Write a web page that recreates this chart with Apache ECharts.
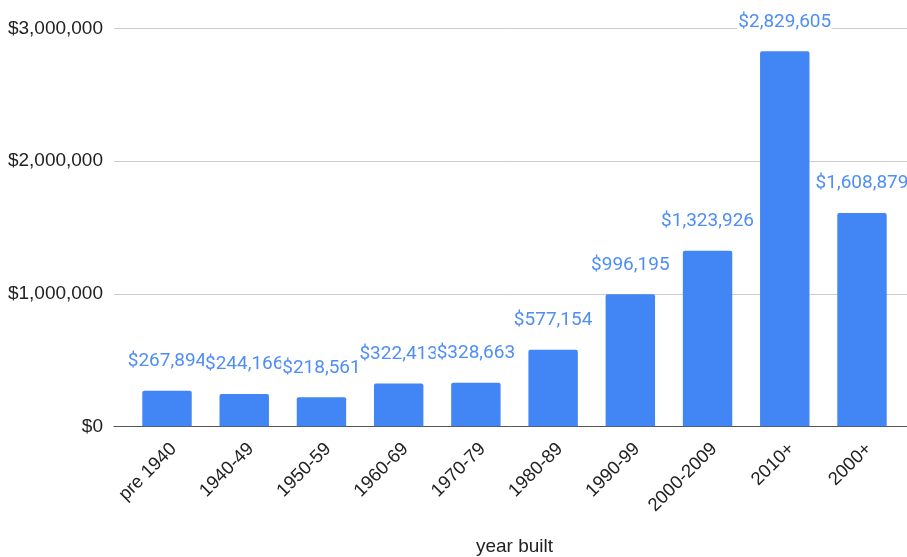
<!DOCTYPE html>
<html>
<head>
<meta charset="utf-8">
<script src="https://cdn.jsdelivr.net/npm/echarts@6/dist/echarts.min.js"></script>
<style>
  html, body { margin: 0; padding: 0; background: #fff; }
  #chart { width: 907px; height: 557px; }
</style>
</head>
<body>
<div id="chart"></div>
<script>
// Median value by year built
const categories = ['pre 1940', '1940-49', '1950-59', '1960-69', '1970-79', '1980-89', '1990-99', '2000-2009', '2010+', '2000+'];
const values = [267894, 244166, 218561, 322413, 328663, 577154, 996195, 1323926, 2829605, 1608879];
const yTicks = [0, 1000000, 2000000, 3000000];

const yMax = yTicks[yTicks.length - 1];
const yStep = yTicks[1] - yTicks[0];
const money = v => '$' + Math.round(v).toLocaleString('en-US');

const plotTop = 28.7;
const plotHeight = 397.6;
const axisFont = '"Liberation Sans", Arial, sans-serif';

const chart = echarts.init(document.getElementById('chart'), null, { renderer: 'canvas' });
chart.setOption({
  backgroundColor: '#ffffff',
  animation: false,
  grid: [
    // wide grid: gridlines, baseline and value-axis labels
    { left: 114, right: 0, top: plotTop, height: plotHeight, outerBoundsMode: 'none', containLabel: false },
    // inner grid: the bars and category labels
    { left: 128.4, right: 6.4, top: plotTop, height: plotHeight, outerBoundsMode: 'none', containLabel: false }
  ],
  xAxis: [
    {
      gridIndex: 0, type: 'value', min: 0, max: 1,
      axisLine: { show: true, onZero: false, lineStyle: { color: '#555555', width: 1 } },
      axisTick: { show: false }, axisLabel: { show: false }, splitLine: { show: false }
    },
    {
      gridIndex: 1, type: 'category', data: categories,
      axisLine: { show: false }, axisTick: { show: false },
      axisLabel: {
        rotate: 45, margin: 13, interval: 0, verticalAlign: 'top',
        color: '#222222', fontFamily: axisFont, fontSize: 18.5
      },
      name: 'year built', nameLocation: 'middle', nameGap: 111,
      nameTextStyle: { color: '#222222', fontFamily: axisFont, fontSize: 19 }
    }
  ],
  yAxis: [
    {
      gridIndex: 0, type: 'value', min: 0, max: yMax, interval: yStep,
      axisLine: { show: false }, axisTick: { show: false },
      axisLabel: {
        margin: 11, color: '#222222', fontFamily: axisFont, fontSize: 19,
        formatter: v => money(v)
      },
      splitLine: { show: true, lineStyle: { color: '#cccccc', width: 1 } }
    },
    {
      gridIndex: 1, type: 'value', min: 0, max: yMax, interval: yStep,
      show: false, splitLine: { show: false }
    }
  ],
  series: [
    {
      type: 'bar',
      xAxisIndex: 1, yAxisIndex: 1,
      data: values,
      barCategoryGap: '36%',
      itemStyle: { color: '#4285f4', borderRadius: [2, 2, 0, 0] },
      label: {
        show: true, position: 'top', distance: 20,
        color: '#4f8ef5', fontFamily: 'Roboto, sans-serif', fontSize: 19,
        backgroundColor: '#ffffff', padding: [0, 1],
        formatter: p => money(p.value)
      }
    }
  ]
});
</script>
</body>
</html>
